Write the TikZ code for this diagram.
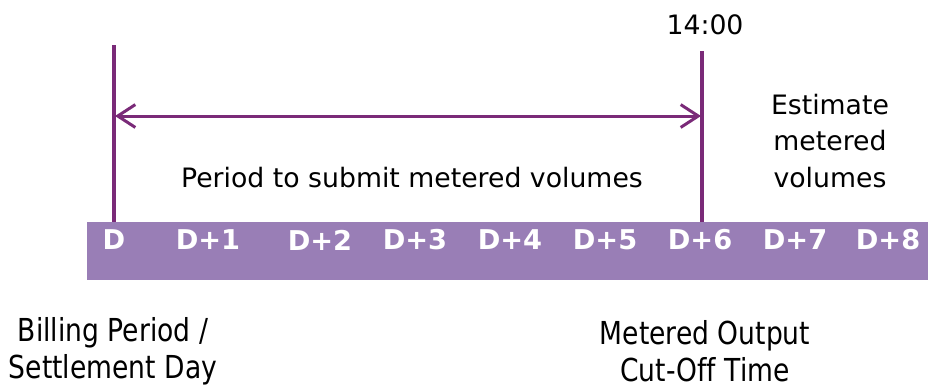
\documentclass[tikz,border=0pt]{standalone}
\usepackage{fontspec}
\setmainfont{DejaVu Sans}
\newfontfamily\narrowfont[FakeStretch=0.84,Ligatures=NoCommon]{DejaVu Sans}
\usetikzlibrary{arrows.meta}
\definecolor{barpurple}{RGB}{153,126,182}
\definecolor{linepurple}{RGB}{122,42,120}
\tikzset{>={Straight Barb[length=10pt,width=13pt]}}

\begin{document}
\begin{tikzpicture}[x=0.02cm,y=-0.02cm]
      \tikzstyle{day}=[text=white,font=\fontsize{15.5}{17}\selectfont\bfseries];
      \tikzstyle{label}=[align=center,font=\fontsize{15.2}{21}\selectfont];
      \tikzstyle{bottom}=[align=center,font=\narrowfont\fontsize{18}{21}\selectfont];
      \tikzstyle{marker}=[linepurple,line width=2.3pt];
      \useasboundingbox (0,0) rectangle (928,387);
      % timeline bar
      \fill[barpurple] (87,222) rectangle (928,280);
      \node[day] (d0) at (114,240) {D};
      \node[day] (d1) at (208,240) {D+1};
      \node[day] (d2) at (320,240) {D+2};
      \node[day] (d3) at (415,240) {D+3};
      \node[day] (d4) at (510,240) {D+4};
      \node[day] (d5) at (605,240) {D+5};
      \node[day] (d6) at (700,240) {D+6};
      \node[day] (d7) at (795,240) {D+7};
      \node[day] (d8) at (888,240) {D+8};
      % markers
      \coordinate (dtop) at (114,45);
      \coordinate (dbot) at (114,222);
      \coordinate (ctop) at (702,51);
      \coordinate (cbot) at (702,222);
      \draw[marker] (dtop)--(dbot);
      \draw[marker] (ctop)--(cbot);
      \coordinate (pstart) at (115,116);
      \coordinate (pend) at (701,116);
      \draw[linepurple,line width=1.7pt,<->] (pstart)--(pend);
      \node[label] (time) at (705,25) {14:00};
      \node[label] (period) at (412,178) {Period to submit metered volumes};
      \node[label] (estimate) at (830,141) {Estimate\\metered\\volumes};
      \node[bottom] (billing) at (113,351) {Billing Period /\\Settlement Day};
      \node[bottom] (cutoff) at (705,351) {Metered Output\\Cut-Off Time};
    \end{tikzpicture}
\end{document}
